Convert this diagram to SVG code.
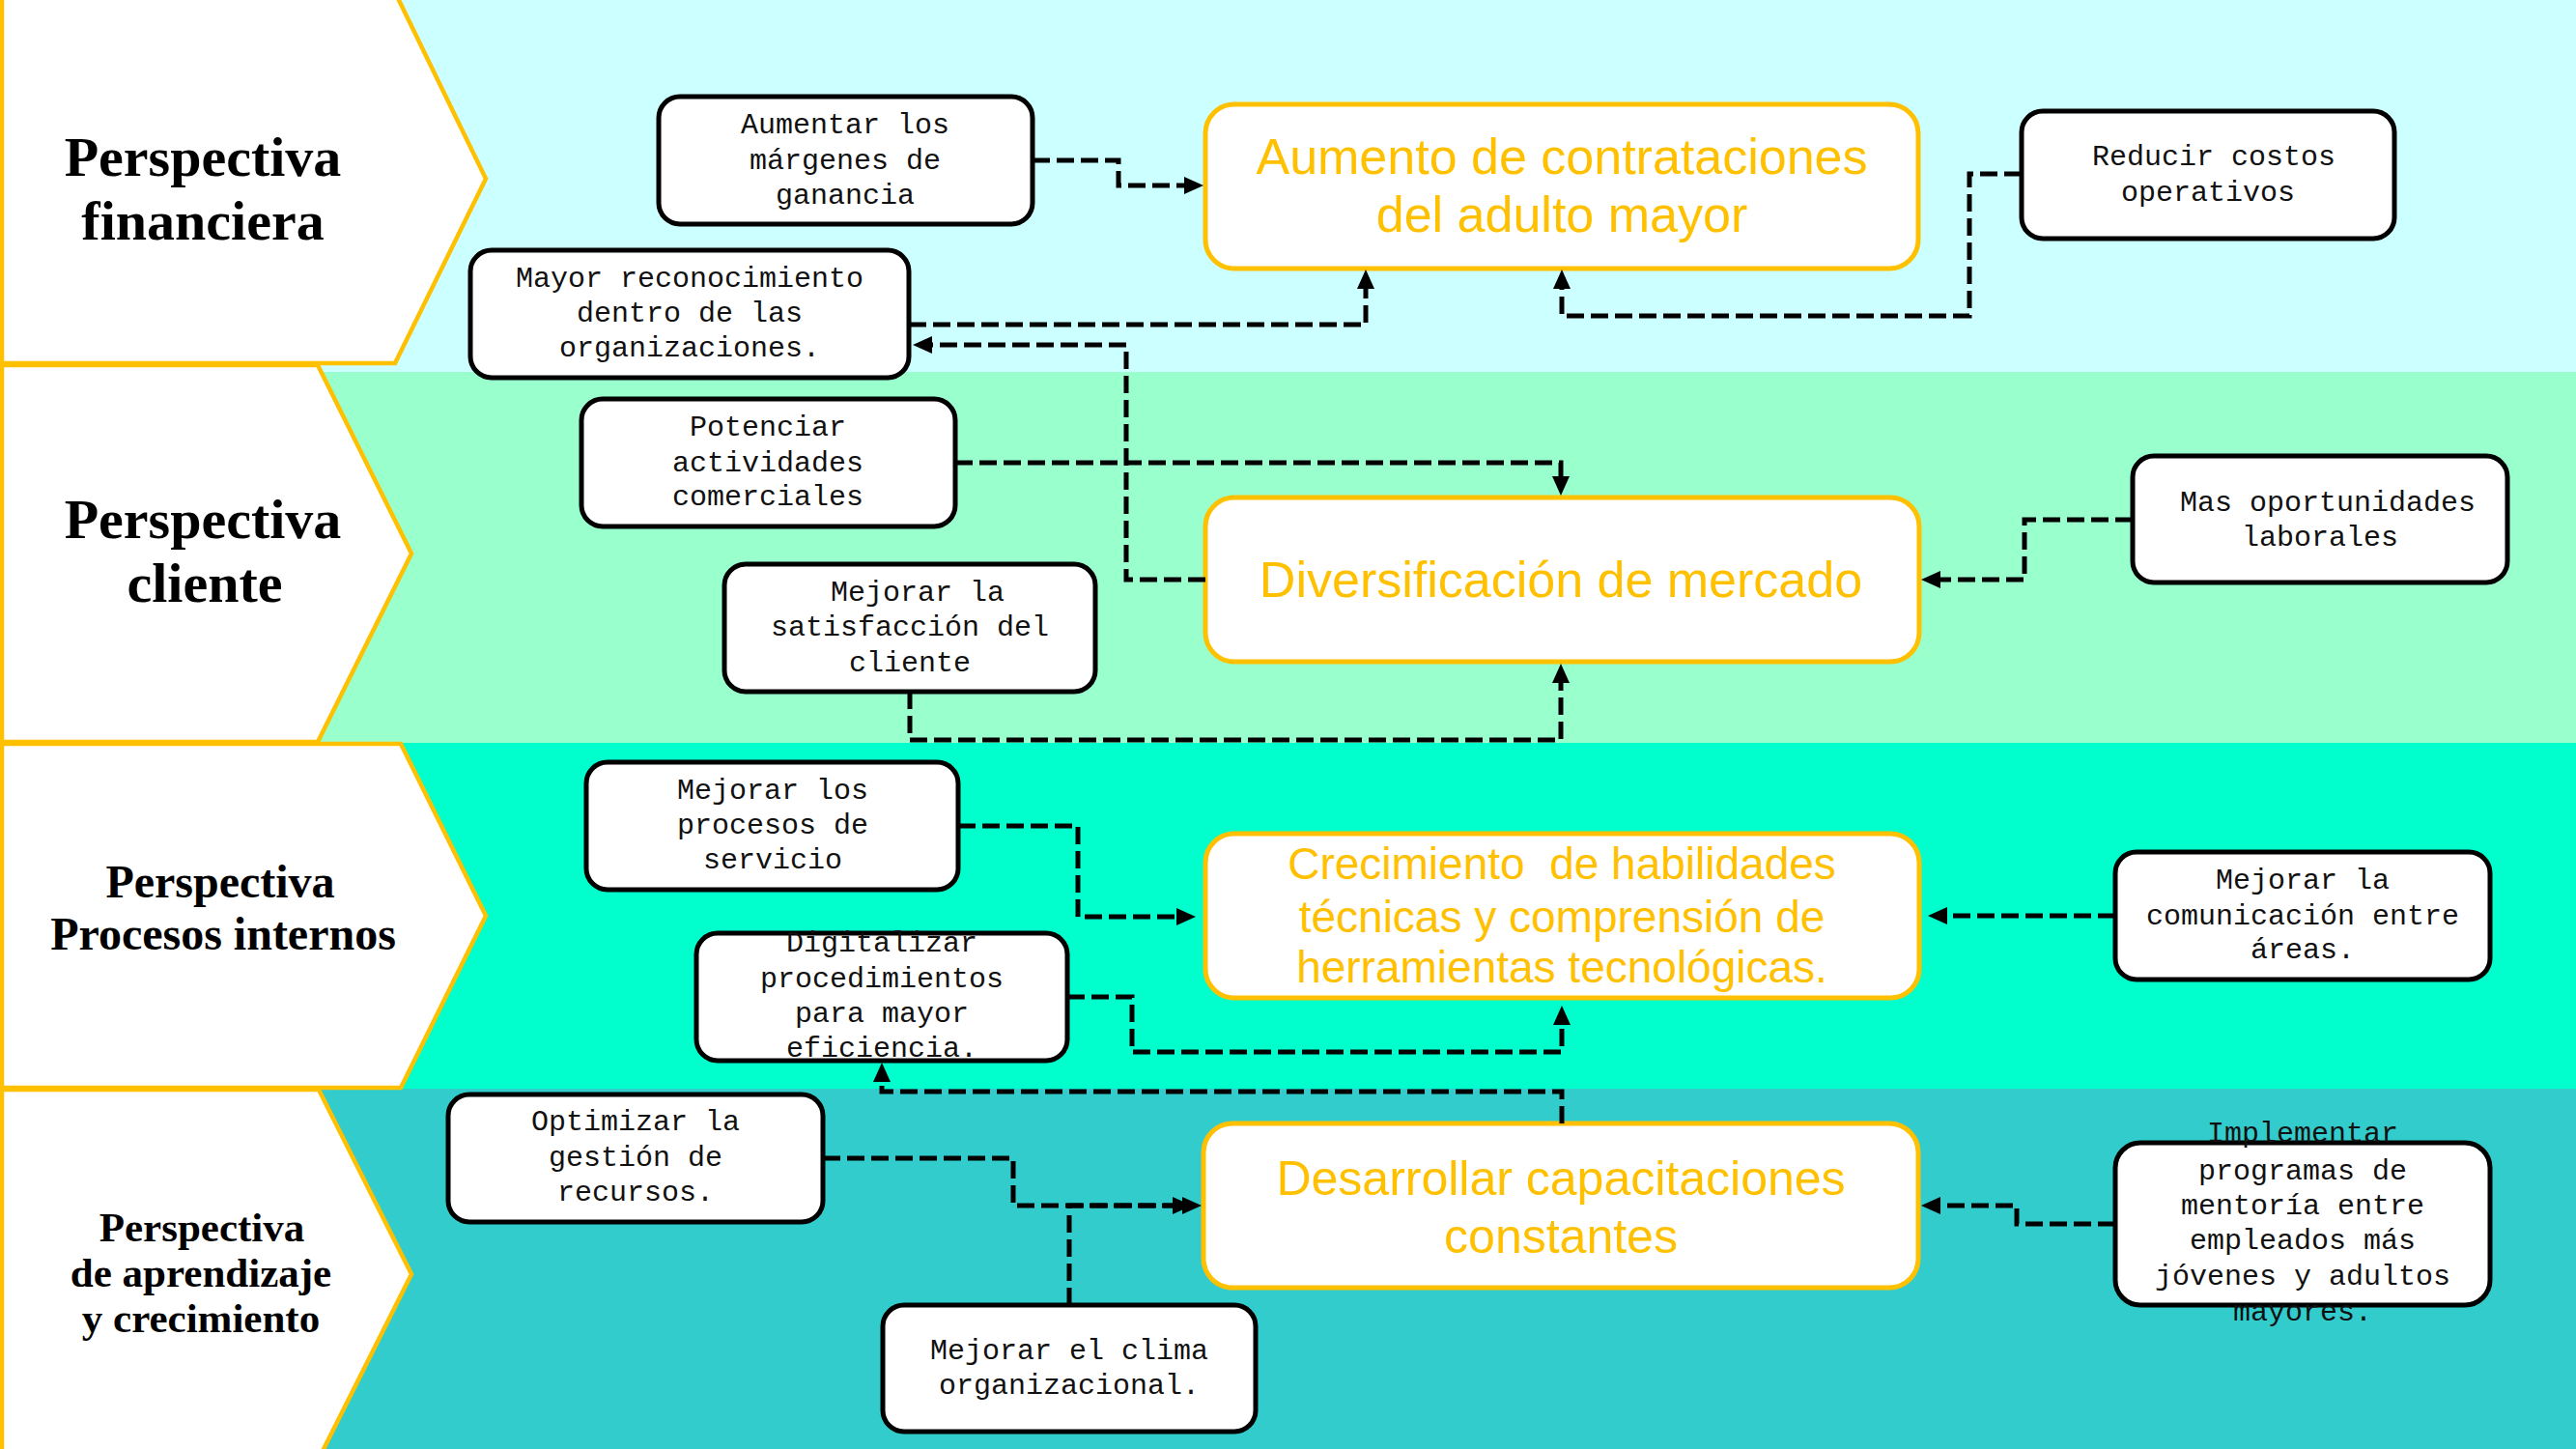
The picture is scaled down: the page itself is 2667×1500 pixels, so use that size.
<svg xmlns="http://www.w3.org/2000/svg" width="2667" height="1500" viewBox="0 0 2667 1500">
<style>
.chev{fill:#fff;stroke:#FFC000;stroke-width:4.5;stroke-linejoin:miter}
.ctx{font-family:"Liberation Serif",serif;font-weight:bold;fill:#000;text-anchor:middle}
.box{fill:#fff;stroke:#000;stroke-width:5}
.btx{font-family:"Liberation Mono","Courier New",monospace;font-size:30px;fill:#111;text-anchor:middle}
.main{fill:#fff;stroke:#FFC000;stroke-width:5}
.mtx{font-family:"Liberation Sans",Arial,sans-serif;fill:#FFC000;text-anchor:middle}
.con{fill:none;stroke:#000;stroke-width:5;stroke-dasharray:18 7;marker-end:url(#arr)}
</style>
<defs>
<marker id="arr" viewBox="0 0 20 18" markerWidth="20" markerHeight="18" refX="12" refY="9" orient="auto" markerUnits="userSpaceOnUse"><path d="M0,0 L20,9 L0,18 Z" fill="#000"/></marker>
</defs>
<g id="bands">
<rect x="0" y="0" width="2667" height="385" fill="#CCFFFF"/>
<rect x="0" y="385" width="2667" height="384" fill="#99FFCC"/>
<rect x="0" y="769" width="2667" height="358" fill="#00FFCC"/>
<rect x="0" y="1127" width="2667" height="373" fill="#33CCCC"/>
</g>
<g id="chev1"><polygon class="chev" points="2,-8 409,-8 503,185 409,376 2,376"/>
<text class="ctx" font-size="58"><tspan x="210" y="182">Perspectiva</tspan><tspan x="210" y="248">financiera</tspan></text></g>
<g id="chev2"><polygon class="chev" points="2,378 329,378 426,573 329,768 2,768"/>
<text class="ctx" font-size="58"><tspan x="210" y="557">Perspectiva</tspan><tspan x="212" y="623">cliente</tspan></text></g>
<g id="chev3"><polygon class="chev" points="2,770 415,770 503,948 415,1126 2,1126"/>
<text class="ctx" font-size="48"><tspan x="228" y="929">Perspectiva</tspan><tspan x="231" y="983">Procesos internos</tspan></text></g>
<g id="chev4"><polygon class="chev" points="2,1128 330,1128 426,1319 330,1510 2,1510"/>
<text class="ctx" font-size="43"><tspan x="209" y="1285">Perspectiva</tspan><tspan x="208" y="1332">de aprendizaje</tspan><tspan x="208" y="1379">y crecimiento</tspan></text></g>

<g id="nodeA"><rect class="main" x="1248" y="108" width="738" height="170" rx="30"/>
<text class="mtx" font-size="52"><tspan x="1617" y="180">Aumento de contrataciones</tspan><tspan x="1617" y="240">del adulto mayor</tspan></text></g>
<g id="nodeB"><rect class="main" x="1248" y="515" width="739" height="170" rx="30"/>
<text class="mtx" font-size="52" x="1616" y="618">Diversificación de mercado</text></g>
<g id="nodeC"><rect class="main" x="1248" y="863" width="739" height="170" rx="30"/>
<text class="mtx" font-size="46" xml:space="preserve"><tspan x="1617" y="910">Crecimiento  de habilidades</tspan><tspan x="1617" y="965">técnicas y comprensión de</tspan><tspan x="1617" y="1017">herramientas tecnológicas.</tspan></text></g>
<g id="nodeD"><rect class="main" x="1246" y="1163" width="740" height="170" rx="30"/>
<text class="mtx" font-size="50"><tspan x="1616" y="1237">Desarrollar capacitaciones</tspan><tspan x="1616" y="1297">constantes</tspan></text></g>

<g id="b_margenes"><rect class="box" x="682" y="100" width="387" height="132" rx="22"/>
<text class="btx"><tspan x="875" y="138">Aumentar los</tspan><tspan x="875" y="175">márgenes de</tspan><tspan x="875" y="211">ganancia</tspan></text></g>
<g id="b_reconoc"><rect class="box" x="487" y="259" width="454" height="132" rx="22"/>
<text class="btx"><tspan x="714" y="297">Mayor reconocimiento</tspan><tspan x="714" y="333">dentro de las</tspan><tspan x="714" y="369">organizaciones.</tspan></text></g>
<g id="b_reducir"><rect class="box" x="2093" y="115" width="386" height="132" rx="22"/>
<text class="btx"><tspan x="2292" y="171">Reducir costos</tspan><tspan x="2286" y="208">operativos</tspan></text></g>
<g id="b_potenciar"><rect class="box" x="602" y="413" width="387" height="132" rx="22"/>
<text class="btx"><tspan x="795" y="451">Potenciar</tspan><tspan x="795" y="488">actividades</tspan><tspan x="795" y="523">comerciales</tspan></text></g>
<g id="b_satisf"><rect class="box" x="750" y="584" width="384" height="132" rx="22"/>
<text class="btx"><tspan x="950" y="622">Mejorar la</tspan><tspan x="942" y="658">satisfacción del</tspan><tspan x="942" y="695">cliente</tspan></text></g>
<g id="b_oport"><rect class="box" x="2208" y="472" width="388" height="131" rx="22"/>
<text class="btx"><tspan x="2410" y="529">Mas oportunidades</tspan><tspan x="2402" y="565">laborales</tspan></text></g>
<g id="b_procesos"><rect class="box" x="607" y="789" width="385" height="132" rx="22"/>
<text class="btx"><tspan x="800" y="827">Mejorar los</tspan><tspan x="800" y="863">procesos de</tspan><tspan x="800" y="899">servicio</tspan></text></g>
<g id="b_digital"><rect class="box" x="721" y="966" width="384" height="132" rx="22"/>
<text class="btx"><tspan x="913" y="985">Digitalizar</tspan><tspan x="913" y="1022">procedimientos</tspan><tspan x="913" y="1058">para mayor</tspan><tspan x="913" y="1094">eficiencia.</tspan></text></g>
<g id="b_comunic"><rect class="box" x="2190" y="882" width="388" height="132" rx="22"/>
<text class="btx"><tspan x="2384" y="920">Mejorar la</tspan><tspan x="2384" y="957">comunicación entre</tspan><tspan x="2384" y="992">áreas.</tspan></text></g>
<g id="b_mentoria"><rect class="box" x="2190" y="1183" width="388" height="168" rx="26"/>
<text class="btx"><tspan x="2384" y="1182">Implementar</tspan><tspan x="2384" y="1221">programas de</tspan><tspan x="2384" y="1257">mentoría entre</tspan><tspan x="2384" y="1293">empleados más</tspan><tspan x="2384" y="1330">jóvenes y adultos</tspan><tspan x="2384" y="1367">mayores.</tspan></text></g>
<g id="b_optim"><rect class="box" x="464" y="1133" width="388" height="132" rx="22"/>
<text class="btx"><tspan x="658" y="1170">Optimizar la</tspan><tspan x="658" y="1207">gestión de</tspan><tspan x="658" y="1243">recursos.</tspan></text></g>
<g id="b_clima"><rect class="box" x="914" y="1351" width="386" height="131" rx="22"/>
<text class="btx"><tspan x="1107" y="1407">Mejorar el clima</tspan><tspan x="1107" y="1443">organizacional.</tspan></text></g>

<g id="connectors">
<path class="con" d="M1069,166 H1158 V192 H1238"/>
<path class="con" d="M941,336 H1414 V287"/>
<path class="con" d="M1248,600 H1166 V357 H953"/>
<path class="con" d="M2093,180 H2039 V327 H1617 V287"/>
<path class="con" d="M989,479 H1616 V505"/>
<path class="con" d="M942,716 V766 H1616 V695"/>
<path class="con" d="M2208,538 H2096 V600 H1997"/>
<path class="con" d="M992,855 H1116 V949 H1230"/>
<path class="con" d="M1105,1032 H1172 V1089 H1617 V1049"/>
<path class="con" d="M2190,948 H2004"/>
<path class="con" d="M1617,1163 V1130 H913 V1108"/>
<path class="con" d="M2190,1267 H2088 V1248 H1997"/>
<path class="con" d="M852,1199 H1049 V1248 H1236"/>
<path class="con" d="M1107,1351 V1248 H1226"/>
</g>
</svg>
